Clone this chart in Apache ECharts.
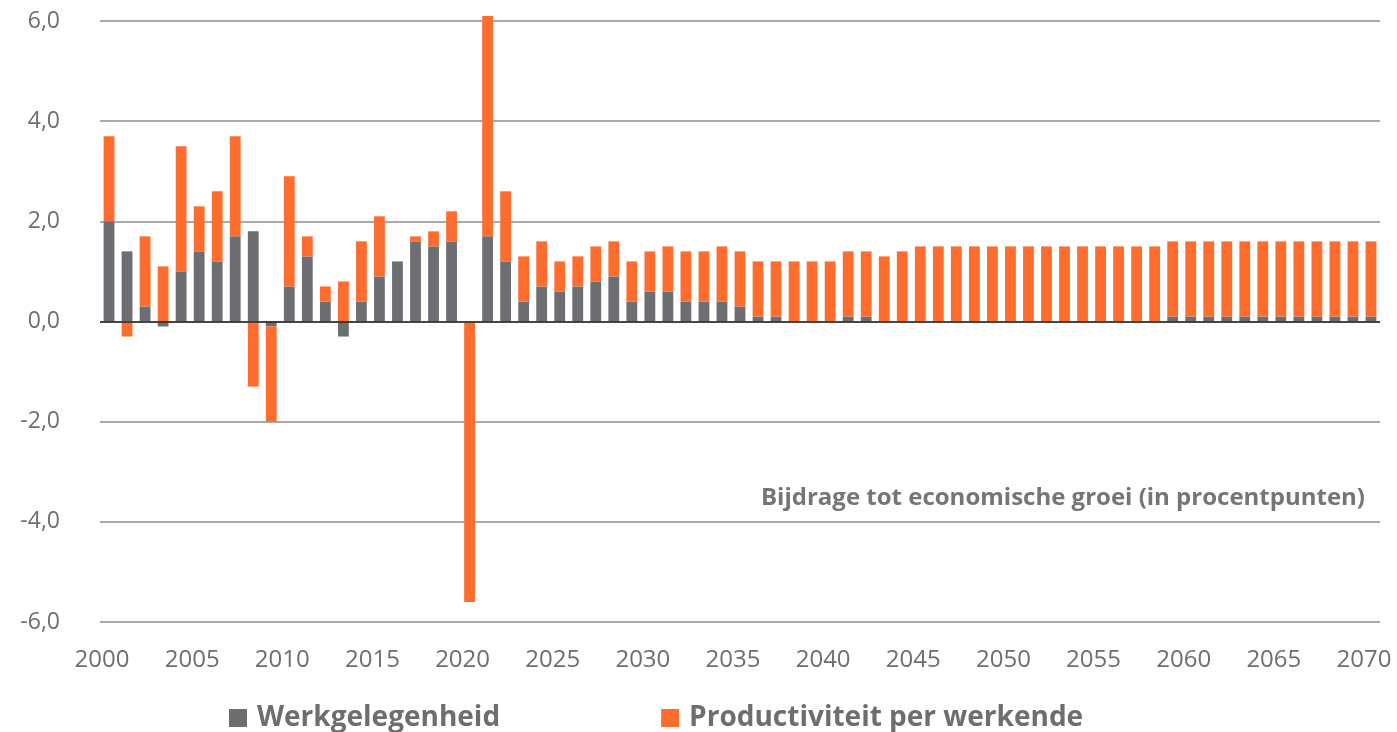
<!DOCTYPE html>
<html>
<head>
<meta charset="utf-8">
<script src="https://cdn.jsdelivr.net/npm/echarts@6/dist/echarts.min.js"></script>
<style>
    html, body { margin: 0; padding: 0; background: #fff; }
    #chart { width: 1397px; height: 732px; }
</style>
</head>
<body>
<div id="chart"></div>
<script>
// jaren 2000 - 2070
const years = [];
for (let y = 2000; y <= 2070; y++) years.push(String(y));

const werkgelegenheid = [
    2.0, 1.4, 0.3, -0.1, 1.0, 1.4, 1.2, 1.7, 1.8, -0.1,
    0.7, 1.3, 0.4, -0.3, 0.4, 0.9, 1.2, 1.6, 1.5, 1.6,
    0.0, 1.7, 1.2, 0.4, 0.7, 0.6, 0.7, 0.8, 0.9, 0.4,
    0.6, 0.6, 0.4, 0.4, 0.4, 0.3, 0.1, 0.1, 0.0, 0.0,
    0.0, 0.1, 0.1, 0.0, 0.0, 0.0, 0.0, 0.0, 0.0, 0.0,
    0.0, 0.0, 0.0, 0.0, 0.0, 0.0, 0.0, 0.0, 0.0, 0.1,
    0.1, 0.1, 0.1, 0.1, 0.1, 0.1, 0.1, 0.1, 0.1, 0.1,
    0.1
];

const productiviteit = [
    1.7, -0.3, 1.4, 1.1, 2.5, 0.9, 1.4, 2.0, -1.3, -1.9,
    2.2, 0.4, 0.3, 0.8, 1.2, 1.2, 0.0, 0.1, 0.3, 0.6,
    -5.6, 4.4, 1.4, 0.9, 0.9, 0.6, 0.6, 0.7, 0.7, 0.8,
    0.8, 0.9, 1.0, 1.0, 1.1, 1.1, 1.1, 1.1, 1.2, 1.2,
    1.2, 1.3, 1.3, 1.3, 1.4, 1.5, 1.5, 1.5, 1.5, 1.5,
    1.5, 1.5, 1.5, 1.5, 1.5, 1.5, 1.5, 1.5, 1.5, 1.5,
    1.5, 1.5, 1.5, 1.5, 1.5, 1.5, 1.5, 1.5, 1.5, 1.5,
    1.5
];

const labelFont = '"Open Sans", sans-serif';
const textGrey = '#6d6e71';

let option = {
    animation: false,
    color: ['#6d6e71', '#ff6d2e'],
    title: {
        text: 'Bijdrage tot economische groei (in procentpunten)',
        right: 27,
        top: 481,
        textStyle: {
            fontFamily: labelFont,
            fontSize: 24,
            fontWeight: 'bold',
            color: '#757575'
        }
    },
    legend: {
        left: 224,
        top: 699,
        itemWidth: 18,
        itemHeight: 18,
        itemGap: 161,
        icon: 'rect',
        textStyle: {
            fontFamily: labelFont,
            fontSize: 28,
            fontWeight: 'bold',
            color: textGrey,
            padding: [0, 0, 0, 5]
        },
        data: ['Werkgelegenheid', 'Productiviteit per werkende']
    },
    grid: {
        left: 100,
        right: 17,
        top: 21,
        bottom: 110
    },
    xAxis: {
        type: 'category',
        data: years,
        axisLine: {show: false, onZero: false},
        axisTick: {show: false},
        axisLabel: {
            interval: 4,
            margin: 26,
            padding: [0, 14, 0, 0],
            fontFamily: labelFont,
            fontSize: 24,
            color: textGrey
        }
    },
    yAxis: {
        type: 'value',
        min: -6,
        max: 6,
        interval: 2,
        axisLine: {show: false},
        axisTick: {show: false},
        axisLabel: {
            margin: 40,
            fontFamily: labelFont,
            fontSize: 23,
            color: textGrey,
            formatter: v => v.toFixed(1).replace('.', ',')
        },
        splitLine: {
            lineStyle: {color: '#a9a9a9', width: 2}
        }
    },
    series: [
        {
            name: 'Werkgelegenheid',
            type: 'bar',
            stack: 'groei',
            barWidth: '60%',
            clip: false,
            data: werkgelegenheid,
            markLine: {
                silent: true,
                symbol: 'none',
                label: {show: false},
                lineStyle: {color: '#262626', width: 1.5, type: 'solid'},
                data: [{yAxis: 0}]
            }
        },
        {
            name: 'Productiviteit per werkende',
            type: 'bar',
            stack: 'groei',
            barWidth: '60%',
            clip: false,
            data: productiviteit
        }
    ]
};

let myChart = echarts.init(document.getElementById('chart'));
myChart.setOption(option);
</script>
</body>
</html>
